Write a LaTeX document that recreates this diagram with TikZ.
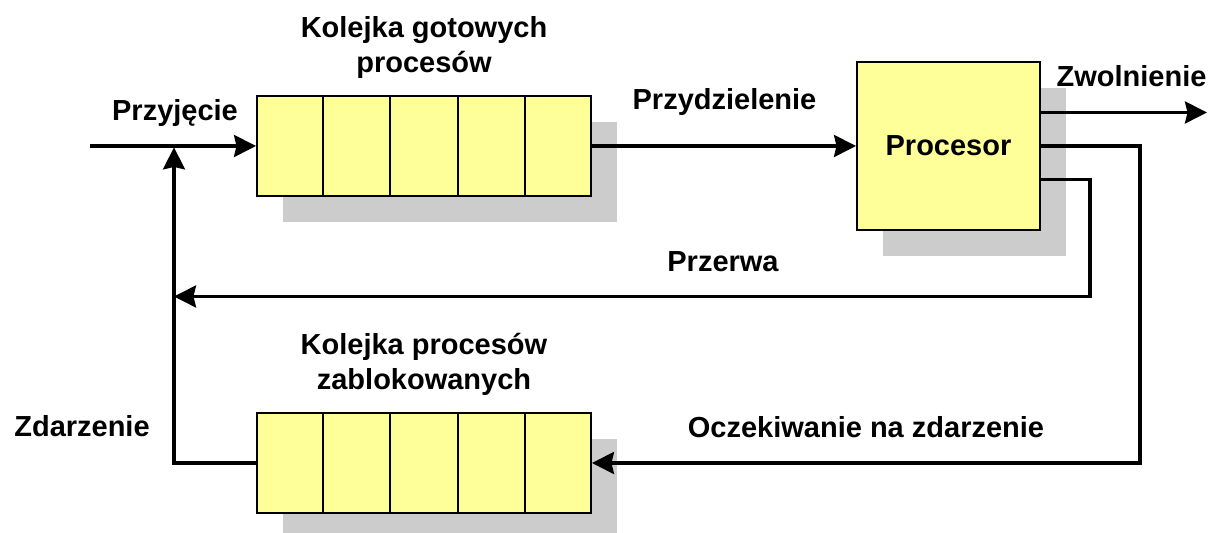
\documentclass[tikz,border=0pt]{standalone}
\usepackage{fontspec}
\setmainfont{Liberation Sans}
\usepackage{xcolor}
\usepackage{tikz}
\usetikzlibrary{arrows.meta, positioning, calc, shadows}

\definecolor{qyellow}{HTML}{FFFF99}
\definecolor{qshadow}{HTML}{CCCCCC}

\begin{document}
\begin{tikzpicture}[->,
			>={Stealth[length=0.44cm, width=0.44cm, inset=0.05cm]},
			line width=1.8pt,
			lbl/.style={font=\bfseries\fontsize{16.5}{20}\selectfont, align=center, inner sep=0pt},
			box/.style={draw=black, fill=qyellow, line width=1.1pt, inner sep=0pt,
				drop shadow={shadow xshift=0.52cm, shadow yshift=-0.52cm, fill=qshadow, opacity=1}},
			queue/.style={box, minimum width=6.68cm, minimum height=2cm}]
			
			\useasboundingbox (0,0) rectangle (24.24,10.66);
			
			\node[queue] (ready) at (8.48,7.74) {};
			\node[queue] (blocked) at (8.48,1.4) {};
			\node[box, lbl, minimum width=3.66cm, minimum height=3.36cm] (cpu) at (18.97,7.74) {Procesor};
			\foreach \k in {1,...,4} {
				\draw[-, line width=1.1pt] ($(ready.north west)!\k/5!(ready.north east)$) -- ($(ready.south west)!\k/5!(ready.south east)$);
				\draw[-, line width=1.1pt] ($(blocked.north west)!\k/5!(blocked.north east)$) -- ($(blocked.south west)!\k/5!(blocked.south east)$);
			}
			
			\coordinate (in) at (1.8,7.74);
			\coordinate (join) at (3.48,7.74);
			\coordinate (out) at (24.14,8.41);
			\coordinate (waitc) at (22.8,7.74);
			\coordinate (irq) at (21.8,4.73);
			
			\draw (in) -- (ready);
			\draw (ready) -- (cpu);
			\draw ([yshift=0.67cm]cpu.east) -- (out);
			\draw (cpu.east) -- (waitc) |- (blocked.east);
			\draw ([yshift=-0.67cm]cpu.east) -| (irq) -- (join |- irq);
			\draw[shorten >=0.8pt] (blocked.west) -| (join);
			
			\node[lbl, above=0.3cm of ready] (readylbl) {Kolejka gotowych\\procesów};
			\node[lbl, above=0.3cm of blocked] (blockedlbl) {Kolejka procesów\\zablokowanych};
			\node[lbl, anchor=base] (admit) at (3.5,8.24) {Przyjęcie};
			\node[lbl, anchor=base] (dispatch) at (14.49,8.47) {Przydzielenie};
			\node[lbl, anchor=base] (release) at (22.63,8.93) {Zwolnienie};
			\node[lbl, anchor=base] (interrupt) at (14.46,5.23) {Przerwa};
			\node[lbl, anchor=base] (event) at (1.64,1.92) {Zdarzenie};
			\node[lbl, anchor=base] (wait) at (17.32,1.9) {Oczekiwanie na zdarzenie};
		\end{tikzpicture}
\end{document}
